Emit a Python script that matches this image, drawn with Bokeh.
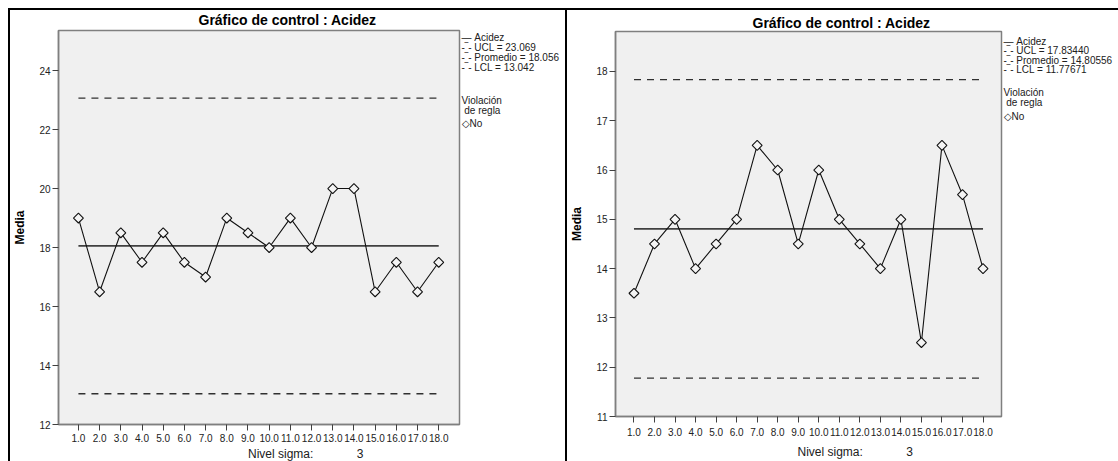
from bokeh.plotting import figure
from bokeh.models import FixedTicker, LinearAxis, Range1d
from bokeh.layouts import row
from bokeh.embed import file_html
from bokeh.resources import INLINE

# ---------------- data ----------------
subgroups = [1, 2, 3, 4, 5, 6, 7, 8, 9, 10, 11, 12, 13, 14, 15, 16, 17, 18]
x_tick_labels = ["1.0", "2.0", "3.0", "4.0", "5.0", "6.0", "7.0", "8.0", "9.0",
                 "10.0", "11.0", "12.0", "13.0", "14.0", "15.0", "16.0", "17.0", "18.0"]

left_means = [19.0, 16.5, 18.5, 17.5, 18.5, 17.5, 17.0, 19.0, 18.5,
              18.0, 19.0, 18.0, 20.0, 20.0, 16.5, 17.5, 16.5, 17.5]
left_ucl = 23.069
left_center = 18.056
left_lcl = 13.042
left_yticks = [12, 14, 16, 18, 20, 22, 24]
left_legend = ["Acidez", "UCL = 23.069", "Promedio = 18.056", "LCL = 13.042"]

right_means = [13.5, 14.5, 15.0, 14.0, 14.5, 15.0, 16.5, 16.0, 14.5,
               16.0, 15.0, 14.5, 14.0, 15.0, 12.5, 16.5, 15.5, 14.0]
right_ucl = 17.83440
right_center = 14.80556
right_lcl = 11.77671
right_yticks = [11, 12, 13, 14, 15, 16, 17, 18]
right_legend = ["Acidez", "UCL = 17.83440", "Promedio = 14.80556", "LCL = 11.77671"]

title_text = "Gráfico de control : Acidez"
y_label = "Media"
sigma_label = "Nivel sigma:"
sigma_value = "3"
rule_title = ["Violación", "de regla"]
rule_item = "No"
legend_symbols = ["—", "-‾-", "-‾-", "-‾-"]

FONT = "Liberation Sans"
NB = "\u00a0"


def make_panel(means, ucl, center, lcl, yticks, legend_texts, L):
    p = figure(width=L["w"], height=L["h"],
               x_range=(L["x0"], L["x1"]), y_range=(L["y0"], L["y1"]),
               output_backend="svg", toolbar_location=None,
               min_border_left=L["fl"], min_border_top=L["ft"],
               min_border_right=L["w"] - L["fl"] - L["fw"],
               min_border_bottom=L["h"] - L["ft"] - L["fh"])
    if "frame_align" in p.properties():
        p.frame_align = False
    p.styles = L["styles"]
    p.background_fill_color = "#f0f0f0"
    p.border_fill_color = "white"
    p.outline_line_color = "#7f7f7f"
    p.outline_line_width = 1.5
    p.xgrid.visible = False
    p.ygrid.visible = False

    # title
    p.title.text = title_text
    p.title.align = "left"
    p.title.offset = L["title_off"]
    p.title.standoff = L["title_standoff"]
    p.title.vertical_align = L["title_valign"]
    p.title.text_font = FONT
    p.title.text_font_size = "14px"
    p.title.text_font_style = "bold"
    p.title.text_color = "black"

    # axes
    p.yaxis.ticker = FixedTicker(ticks=yticks)
    p.xaxis.ticker = FixedTicker(ticks=subgroups)
    p.xaxis.major_label_overrides = dict(zip(subgroups, x_tick_labels))
    for ax in (p.xaxis[0], p.yaxis[0]):
        ax.axis_line_color = "#7f7f7f"
        ax.axis_line_width = 1.5
        ax.major_tick_line_color = "#404040"
        ax.major_tick_in = 0
        ax.major_tick_out = 6
        ax.minor_tick_line_color = None
        ax.major_label_text_font = FONT
        ax.major_label_text_font_size = "10px"
        ax.major_label_text_color = "#222222"
    p.yaxis.major_label_standoff = 2
    p.xaxis.major_label_standoff = L["xlab_standoff"]
    p.yaxis.axis_label = y_label
    p.yaxis.axis_label_text_font = FONT
    p.yaxis.axis_label_text_font_size = "12px"
    p.yaxis.axis_label_text_font_style = "bold"
    p.yaxis.axis_label_text_color = "black"
    p.yaxis.axis_label_standoff = 9
    p.xaxis.axis_label = NB * 28 + sigma_label + NB * 13 + sigma_value
    p.xaxis.axis_label_text_font = FONT
    p.xaxis.axis_label_text_font_size = "12px"
    p.xaxis.axis_label_text_font_style = "normal"
    p.xaxis.axis_label_text_color = "#202020"
    p.xaxis.axis_label_standoff = L["sig_standoff"]

    xs = [subgroups[0], subgroups[-1]]
    # control limits
    p.line(xs, [ucl, ucl], line_color="#303030", line_width=1.3, line_dash="7 6")
    p.line(xs, [lcl, lcl], line_color="#303030", line_width=1.3, line_dash="7 6")
    p.line(xs, [center, center], line_color="#404040", line_width=1.6)
    # series
    p.line(subgroups, means, line_color="#111111", line_width=1.1)
    p.scatter(subgroups, means, marker="square", angle=0.785398, size=7,
              fill_color="#f4f4f4", line_color="#111111", line_width=1.1)

    # legend as a tick-label column on a right-hand axis (pixel offsets from frame top)
    texts = [s + NB + t for s, t in zip(legend_symbols, legend_texts)]
    texts += [rule_title[0], NB + rule_title[1], "◇" + rule_item]
    pos = L["leg_pos"]
    p.extra_y_ranges = {"leg": Range1d(start=L["fh"], end=0)}
    leg_axis = LinearAxis(y_range_name="leg", ticker=FixedTicker(ticks=pos),
                          major_label_overrides=dict(zip(pos, texts)))
    leg_axis.axis_line_color = None
    leg_axis.major_tick_line_color = None
    leg_axis.minor_tick_line_color = None
    leg_axis.major_tick_out = 0
    leg_axis.major_tick_in = 0
    leg_axis.major_label_standoff = 2
    leg_axis.major_label_text_font = FONT
    leg_axis.major_label_text_font_size = "10px"
    leg_axis.major_label_text_color = "#202020"
    p.add_layout(leg_axis, "right")
    return p


left_layout = dict(w=559, h=453, fl=46, ft=19, fw=403, fh=395,
                   x0=0.06, x1=18.98, y0=12, y1=25.36,
                   title_off=140, title_standoff=2, title_valign="top",
                   xlab_standoff=3, sig_standoff=2,
                   leg_pos=[7, 17, 27, 37, 70, 80, 93],
                   styles={"border-top": "2px solid black", "border-left": "2px solid black",
                           "border-right": "2px solid black"})
right_layout = dict(w=551, h=453, fl=46, ft=21, fw=388, fh=385,
                    x0=0.1, x1=18.9, y0=11, y1=18.81,
                    title_off=137, title_standoff=2, title_valign="bottom",
                    xlab_standoff=5, sig_standoff=6,
                    leg_pos=[10, 19, 29, 38, 61, 71, 85],
                    styles={"border-top": "2px solid black"})

p_left = make_panel(left_means, left_ucl, left_center, left_lcl, left_yticks, left_legend, left_layout)
p_right = make_panel(right_means, right_ucl, right_center, right_lcl, right_yticks, right_legend, right_layout)

layout = row(p_left, p_right, spacing=0)
layout.styles = {"margin-left": "8px", "margin-top": "8px"}
open("out.html", "w").write(file_html(layout, INLINE))
